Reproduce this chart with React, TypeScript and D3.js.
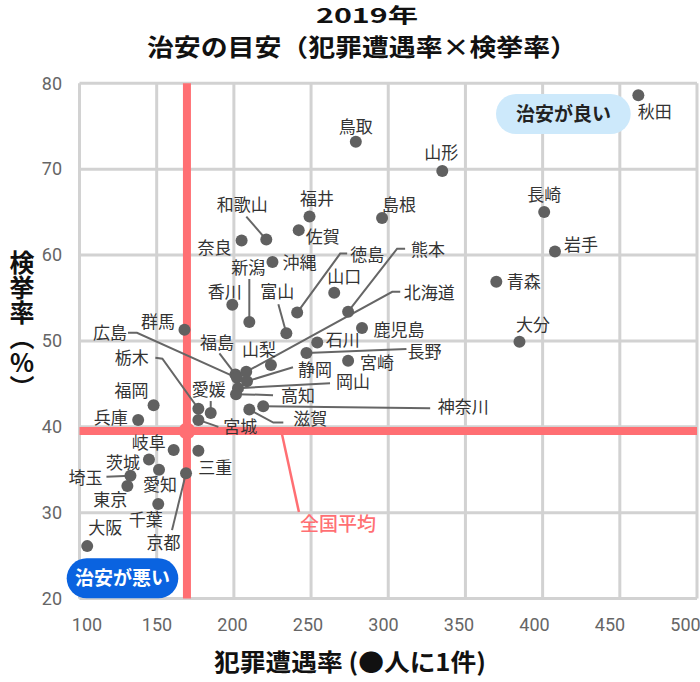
import React from "react";
import * as d3 from "d3";

// ---- data ----
const prefectures = [
  "秋田", "鳥取", "山形", "長崎", "岩手", "青森", "大分", "島根", "福井", "佐賀",
  "和歌山", "奈良", "沖縄", "新潟", "香川", "富山", "徳島", "山口", "熊本", "鹿児島",
  "石川", "長野", "宮崎", "山梨", "群馬", "福島", "広島", "北海道", "静岡", "岡山",
  "高知", "神奈川", "滋賀", "愛媛", "栃木", "宮城", "福岡", "兵庫", "岐阜", "三重",
  "茨城", "愛知", "埼玉", "東京", "京都", "千葉", "大阪",
];
// 犯罪遭遇率 (●人に1件)
const crimeRate = [
  462, 279, 335, 401, 408, 370, 385, 296, 249, 242,
  221, 205, 225, 210, 199, 234, 241, 265, 274, 283,
  254, 247, 274, 224, 168, 201, 202, 208, 208.5, 202.7,
  201.4, 219, 210, 185, 177, 177, 148, 138, 161, 177,
  145, 151.5, 133, 131, 169, 151, 105,
];
// 検挙率 (%)
const clearanceRate = [
  78.6, 73.2, 69.8, 65.0, 60.4, 56.9, 49.9, 64.3, 64.5, 62.9,
  61.8, 61.7, 59.2, 52.2, 54.2, 50.9, 53.3, 55.6, 53.4, 51.5,
  49.8, 48.6, 47.7, 47.2, 51.3, 46.1, 45.7, 46.4, 45.3, 44.5,
  43.8, 42.4, 42.0, 41.6, 42.1, 40.8, 42.5, 40.8, 37.3, 37.2,
  36.2, 35.0, 34.3, 33.1, 34.6, 31.0, 26.1,
];
const nationalCrimeRate = 169.6;
const nationalClearance = 39.5;
const xTicks = [100, 150, 200, 250, 300, 350, 400, 450, 500];
const yTicks = [20, 30, 40, 50, 60, 70, 80];

// ---- label layout (pixel offsets from the point) ----
type L = { dx: number; dy: number; leader?: [number, number][] };
const labelLayout: Record<string, L> = {
  秋田: { dx: 16.5, dy: 16.7 },
  鳥取: { dx: 0, dy: -15 },
  山形: { dx: -1, dy: -18 },
  長崎: { dx: 0, dy: -17 },
  岩手: { dx: 26, dy: -7 },
  青森: { dx: 27.5, dy: 0 },
  大分: { dx: 13.5, dy: -17 },
  島根: { dx: 17, dy: -13 },
  福井: { dx: 7.5, dy: -18 },
  佐賀: { dx: 24, dy: 7 },
  和歌山: { dx: -24, dy: -35, leader: [[-20, -23]] },
  奈良: { dx: -27, dy: 7 },
  沖縄: { dx: 27, dy: 1 },
  新潟: { dx: -1, dy: -54, leader: [[0, -43]] },
  香川: { dx: -7.5, dy: -13 },
  富山: { dx: -9, dy: -41, leader: [[-8, -29]] },
  徳島: { dx: 70, dy: -58, leader: [[43, -59], [50, -59]] },
  山口: { dx: 10, dy: -16 },
  熊本: { dx: 80, dy: -62, leader: [[49, -63], [57, -63]] },
  鹿児島: { dx: 37, dy: 2 },
  石川: { dx: 25.5, dy: -3 },
  長野: { dx: 118, dy: -1, leader: [[100, -4]] },
  宮崎: { dx: 29, dy: 2 },
  山梨: { dx: -12, dy: -15 },
  群馬: { dx: -26.5, dy: -8 },
  福島: { dx: -18.5, dy: -32, leader: [[-16, -21]] },
  広島: { dx: -127, dy: -45, leader: [[-100, -45], [-109, -45]] },
  北海道: { dx: 183, dy: -79, leader: [[146, -80], [154, -80]] },
  静岡: { dx: 68, dy: -11, leader: [[46, -14]] },
  岡山: { dx: 115, dy: -6, leader: [[92, -5]] },
  高知: { dx: 62, dy: 2, leader: [[37, 1]] },
  神奈川: { dx: 200, dy: 1, leader: [[167, 2]] },
  滋賀: { dx: 61, dy: 9, leader: [[24, 13], [34, 13]] },
  愛媛: { dx: -2, dy: -23, leader: [[0, -12]] },
  栃木: { dx: -66.5, dy: -51, leader: [[-36, -50], [-43, -51]] },
  宮城: { dx: 42, dy: 7, leader: [[20, 7]] },
  福岡: { dx: -22, dy: -14 },
  兵庫: { dx: -27.5, dy: -2 },
  岐阜: { dx: -25, dy: -7 },
  三重: { dx: 17, dy: 17 },
  茨城: { dx: -26, dy: 3 },
  愛知: { dx: 1, dy: 15 },
  埼玉: { dx: -45, dy: 2, leader: [[-24, 1]] },
  東京: { dx: -17, dy: 14 },
  京都: { dx: -22.5, dy: 70, leader: [[-14, 57]] },
  千葉: { dx: -12.5, dy: 16 },
  大阪: { dx: 18, dy: -18 },
};

const W = 700;
const H = 682;
const CJK = "'Noto Sans CJK JP', 'Noto Sans', sans-serif";
const NUM = "Roboto, 'Noto Sans', sans-serif";
const RED = "#ff6f73";
const GRID = "#d2d2d2";

export default function App() {
  const x = d3.scaleLinear().domain([100, 500]).range([79.5, 697]);
  const y = d3.scaleLinear().domain([20, 80]).range([598.5, 83.3]);
  const xLab = d3.scaleLinear().domain([100, 500]).range([81.5, 685.5]);
  const line = d3.line();

  const ax = x(nationalCrimeRate);
  const ay = y(nationalClearance);

  return (
    <svg
      width={W}
      height={H}
      style={{ position: "absolute", left: 0, top: 0, background: "#fff" }}
    >
      {/* titles */}
      <text x={367} y={23} textAnchor="middle" fontFamily={CJK} fontWeight={700} fontSize={20} fill="#111"
        textLength={102} lengthAdjust="spacingAndGlyphs">
        2019年
      </text>
      <text x={362} y={56} textAnchor="middle" fontFamily={CJK} fontWeight={700} fontSize={24} fill="#111"
        textLength={430} lengthAdjust="spacingAndGlyphs">
        治安の目安（犯罪遭遇率×検挙率）
      </text>

      {/* grid */}
      {xTicks.map((t) => (
        <line key={"gx" + t} x1={x(t)} x2={x(t)} y1={y(80)} y2={y(20)} stroke={GRID} strokeWidth={3} />
      ))}
      {yTicks.map((t) => (
        <line key={"gy" + t} x1={x(100)} x2={x(500)} y1={y(t)} y2={y(t)} stroke={GRID} strokeWidth={3} />
      ))}

      {/* tick labels */}
      {yTicks.map((t) => (
        <text key={"ty" + t} x={62} y={y(t)} dy="0.35em" textAnchor="end" fontFamily={NUM} fontSize={18} fill="#666">
          {t}
        </text>
      ))}
      {xTicks.map((t, i) => (
        <text key={"tx" + t} x={i === 0 ? 87 : xLab(t)} y={631} textAnchor="middle" fontFamily={NUM} fontSize={18} fill="#666">
          {t}
        </text>
      ))}

      {/* axis titles */}
      <text x={350} y={671} textAnchor="middle" fontFamily={CJK} fontWeight={700} fontSize={24} fill="#111"
        textLength={272} lengthAdjust="spacingAndGlyphs">
        犯罪遭遇率 (●人に1件)
      </text>
      <text
        x={22}
        y={325}
        textAnchor="middle"
        fontFamily={CJK}
        fontWeight={700}
        fontSize={25}
        fill="#111"
        style={{ writingMode: "vertical-rl" as any }}
      >
        検挙率（％）
      </text>

      {/* national average lines */}
      <line x1={ax} x2={ax} y1={y(80)} y2={y(20)} stroke={RED} strokeWidth={8} />
      <line x1={x(100)} x2={x(500)} y1={ay} y2={ay} stroke={RED} strokeWidth={8} />
      <circle cx={ax} cy={ay} r={8.5} fill={RED} />
      <line x1={ax + 95} x2={ax + 112} y1={ay + 3} y2={ay + 81} stroke={RED} strokeWidth={2.5} />
      <text x={ax + 151} y={ay + 93} dy="0.35em" textAnchor="middle" fontFamily={CJK} fontWeight={500} fontSize={19} fill={RED}>
        全国平均
      </text>

      {/* leaders */}
      {prefectures.map((p, i) => {
        const lay = labelLayout[p];
        if (!lay || !lay.leader) return null;
        const px = x(crimeRate[i]);
        const py = y(clearanceRate[i]);
        const pts: [number, number][] = [[px, py], ...lay.leader.map(([a, b]) => [px + a, py + b] as [number, number])];
        return <path key={"ld" + p} d={line(pts) || ""} fill="none" stroke="#666" strokeWidth={2} />;
      })}

      {/* points */}
      {prefectures.map((p, i) => (
        <circle key={"pt" + p} cx={x(crimeRate[i])} cy={y(clearanceRate[i])} r={6} fill="#606060" />
      ))}

      {/* labels */}
      {prefectures.map((p, i) => {
        const lay = labelLayout[p];
        return (
          <text
            key={"lb" + p}
            x={x(crimeRate[i]) + lay.dx}
            y={y(clearanceRate[i]) + lay.dy}
            dy="0.36em"
            textAnchor="middle"
            fontFamily={CJK}
            fontSize={17}
            fill="#333"
          >
            {p}
          </text>
        );
      })}

      {/* badges */}
      <rect x={66.7} y={558.3} width={111.6} height={40} rx={20} fill="#0a63e0" />
      <text x={122.5} y={578.5} dy="0.36em" textAnchor="middle" fontFamily={CJK} fontWeight={700} fontSize={19} fill="#fff">
        治安が悪い
      </text>
      <rect x={496} y={94} width={134.7} height={40} rx={20} fill="#cde9fb" />
      <text x={563.5} y={114} dy="0.36em" textAnchor="middle" fontFamily={CJK} fontWeight={700} fontSize={19} fill="#222">
        治安が良い
      </text>
    </svg>
  );
}
